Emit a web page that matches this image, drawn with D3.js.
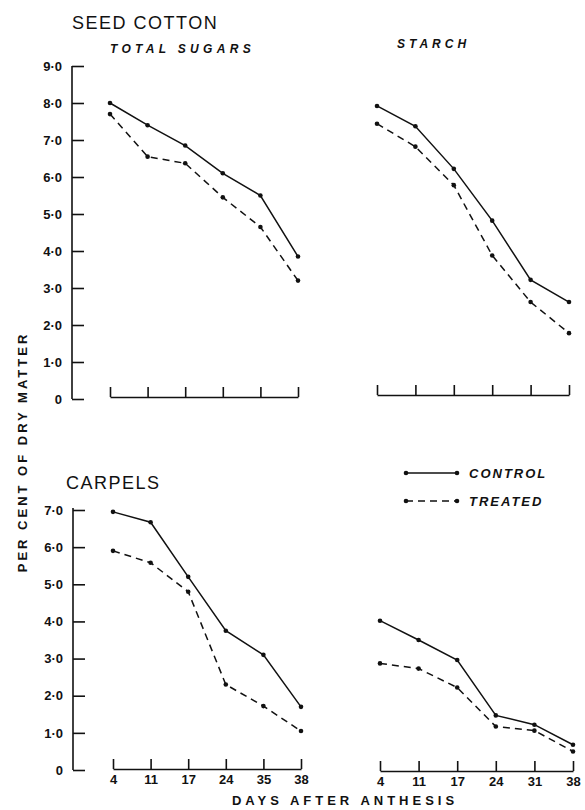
<!DOCTYPE html>
<html>
<head>
<meta charset="utf-8">
<script src="https://cdn.jsdelivr.net/npm/d3@7"></script>
<style>
  body { margin: 0; background: #fff; }
  text { font-family: "Liberation Sans", Arial, sans-serif; fill: #111; }
  .axis path, .axis line { stroke: #111; stroke-width: 1.6; }
  .axis text { font-size: 13px; font-weight: bold; }
</style>
</head>
<body>
<div id="chart"></div>
<script>
var leftDays = ["4", "11", "17", "24", "35", "38"];
var rightDays = ["4", "11", "17", "24", "31", "38"];
var topTicks = [0, 1, 2, 3, 4, 5, 6, 7, 8, 9];
var bottomTicks = [0, 1, 2, 3, 4, 5, 6, 7];

var sugarsControl = [8.0, 7.4, 6.85, 6.1, 5.5, 3.85];
var sugarsTreated = [7.7, 6.55, 6.37, 5.45, 4.65, 3.2];
var starchControl = [7.92, 7.37, 6.22, 4.82, 3.22, 2.62];
var starchTreated = [7.44, 6.82, 5.78, 3.88, 2.62, 1.78];
var carpSugarsControl = [6.95, 6.67, 5.2, 3.75, 3.1, 1.7];
var carpSugarsTreated = [5.9, 5.58, 4.8, 2.3, 1.72, 1.05];
var carpStarchControl = [4.02, 3.5, 2.96, 1.47, 1.22, 0.68];
var carpStarchTreated = [2.87, 2.73, 2.22, 1.17, 1.06, 0.5];

var width = 585, height = 810;
var svg = d3.select("#chart")
            .append("svg")
              .attr("width", width)
              .attr("height", height);

var yTop = d3.scaleLinear().domain([0, 9]).range([399, 66]);
var yBottom = d3.scaleLinear().domain([0, 7]).range([770, 510]);

var xTopLeft = d3.scalePoint().domain(leftDays).range([110, 298]);
var xTopRight = d3.scalePoint().domain(rightDays).range([377, 569]);
var xBotLeft = d3.scalePoint().domain(leftDays).range([113, 301]);
var xBotRight = d3.scalePoint().domain(rightDays).range([380, 573]);

function yAxis(scale, ticks, x, top) {
  var g = svg.append("g")
     .attr("class", "axis")
     .attr("transform", "translate(" + x + ",0)")
     .call(d3.axisLeft(scale)
             .tickValues(ticks)
             .tickSizeInner(-12)
             .tickSizeOuter(0)
             .tickPadding(10)
             .tickFormat(d => d === 0 ? "0" : d + "\u00b70"));
  g.select(".domain").attr("d", "M0," + scale(0) + "V" + top);
}

function xAxis(scale, y, labels) {
  svg.append("g")
     .attr("class", "axis")
     .attr("transform", "translate(0," + y + ")")
     .call(d3.axisBottom(scale)
             .tickSizeInner(-10)
             .tickSizeOuter(0)
             .tickPadding(6)
             .tickFormat(d => labels ? d : ""));
}

function series(xs, ys, domain, values, dashed) {
  var line = d3.line()
               .x((d, i) => xs(domain[i]))
               .y(d => ys(d));
  svg.append("path")
     .datum(values)
     .attr("d", line)
     .attr("fill", "none")
     .attr("stroke", "#111")
     .attr("stroke-width", 1.5)
     .attr("stroke-dasharray", dashed ? "7,5" : null);
  svg.selectAll(null)
     .data(values)
     .enter()
     .append("circle")
       .attr("cx", (d, i) => xs(domain[i]))
       .attr("cy", d => ys(d))
       .attr("r", 2.3)
       .attr("fill", "#111");
}

yAxis(yTop, topTicks, 72, 66);
yAxis(yBottom, bottomTicks, 73, 508);
xAxis(xTopLeft, 397, false);
xAxis(xTopRight, 395, false);
xAxis(xBotLeft, 769, true);
xAxis(xBotRight, 771, true);

series(xTopLeft, yTop, leftDays, sugarsControl, false);
series(xTopLeft, yTop, leftDays, sugarsTreated, true);
series(xTopRight, yTop, rightDays, starchControl, false);
series(xTopRight, yTop, rightDays, starchTreated, true);
series(xBotLeft, yBottom, leftDays, carpSugarsControl, false);
series(xBotLeft, yBottom, leftDays, carpSugarsTreated, true);
series(xBotRight, yBottom, rightDays, carpStarchControl, false);
series(xBotRight, yBottom, rightDays, carpStarchTreated, true);

// titles
svg.append("text").attr("x", 72).attr("y", 29)
   .style("font-size", "18px").style("letter-spacing", "1.5px").text("SEED COTTON");
svg.append("text").attr("x", 110).attr("y", 53)
   .style("font-size", "12px").style("font-style", "italic").style("font-weight", "bold")
   .style("letter-spacing", "4.3px").text("TOTAL SUGARS");
svg.append("text").attr("x", 397).attr("y", 48)
   .style("font-size", "12px").style("font-style", "italic").style("font-weight", "bold")
   .style("letter-spacing", "4px").text("STARCH");
svg.append("text").attr("x", 66).attr("y", 489)
   .style("font-size", "18px").style("letter-spacing", "1.5px").text("CARPELS");

svg.append("text")
   .attr("transform", "translate(27,452) rotate(-90)")
   .attr("text-anchor", "middle")
   .style("font-size", "13px").style("font-weight", "bold").style("letter-spacing", "3px")
   .text("PER CENT OF DRY MATTER");

svg.append("text").attr("x", 345).attr("y", 805)
   .attr("text-anchor", "middle")
   .style("font-size", "13px").style("font-weight", "bold").style("letter-spacing", "4px")
   .text("DAYS AFTER ANTHESIS");

// legend
var legend = [["CONTROL", false, 473], ["TREATED", true, 501]];
legend.forEach(function(l) {
  svg.append("line").attr("x1", 406).attr("x2", 457).attr("y1", l[2]).attr("y2", l[2])
     .attr("stroke", "#111").attr("stroke-width", 1.5)
     .attr("stroke-dasharray", l[1] ? "7,5" : null);
  [406, 457].forEach(function(x) {
    svg.append("circle").attr("cx", x).attr("cy", l[2]).attr("r", 2.3).attr("fill", "#111");
  });
  svg.append("text").attr("x", 469).attr("y", l[2] + 5)
     .style("font-size", "13px").style("font-style", "italic").style("font-weight", "bold")
     .style("letter-spacing", "2px").text(l[0]);
});
</script>
</body>
</html>
